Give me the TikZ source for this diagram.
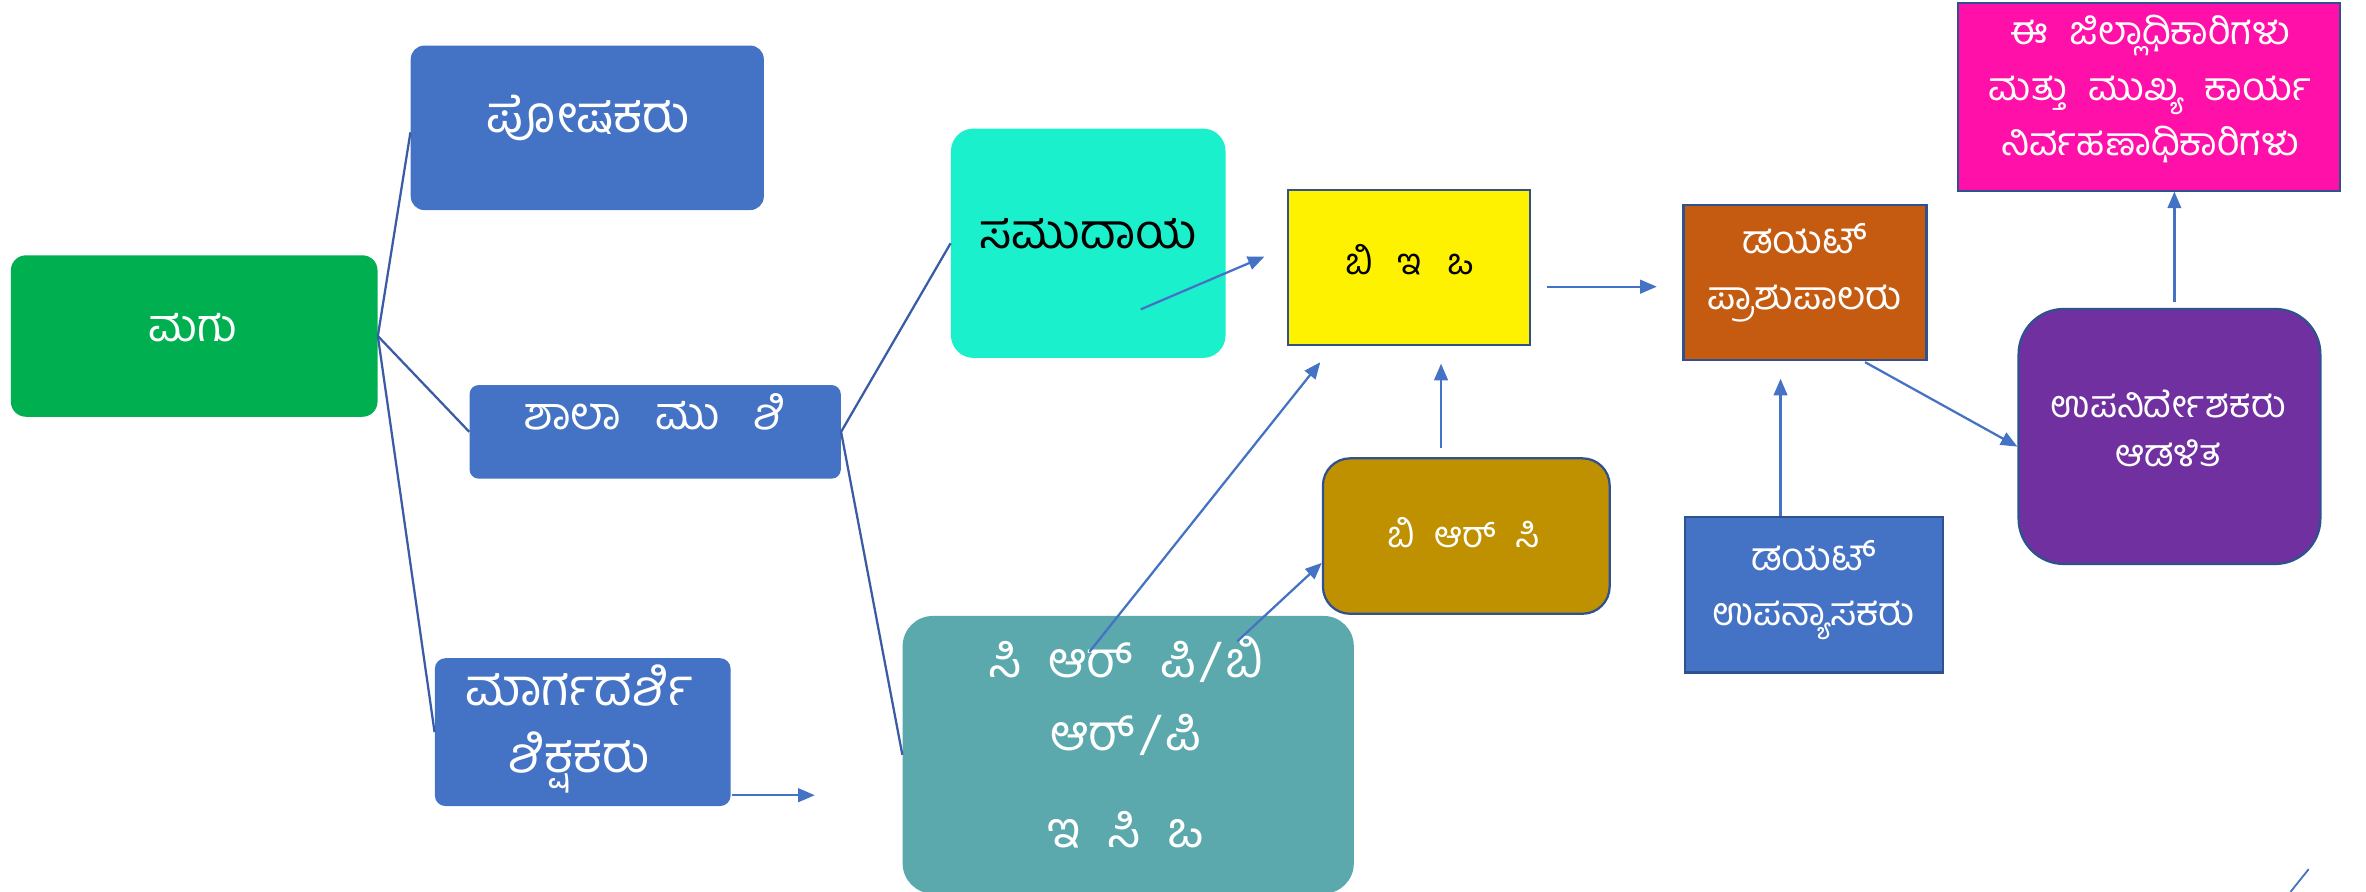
\documentclass[tikz,border=0pt]{standalone}
\usepackage{fontspec}
\newfontfamily\kn[Script=Kannada]{Hind Mysuru}
\usetikzlibrary{arrows.meta}
\definecolor{cgreen}{HTML}{00B050}
\definecolor{cblue}{HTML}{4472C4}
\definecolor{cdark}{HTML}{2F528F}
\definecolor{cline}{HTML}{3A5BA5}
\definecolor{caqua}{HTML}{1BF0CC}
\definecolor{cteal}{HTML}{5BA9AD}
\definecolor{cgold}{HTML}{BF9000}
\definecolor{corange}{HTML}{C55A11}
\definecolor{cpurple}{HTML}{7030A0}
\definecolor{cpink}{HTML}{FF10A9}
\newcommand{\gap}[1]{\hspace{#1em}}
\begin{document}
\begin{tikzpicture}[x=1pt,y=-1pt,
  box/.style={anchor=north west,inner sep=0pt,draw=none},
  txt/.style={font=\kn\fontsize{30}{36}\selectfont,text=white,inner sep=0pt,align=center},
  tree/.style={draw=cline,line width=1.5pt},
  arr/.style={draw=cblue,line width=1.5pt,-{Triangle[length=11pt,width=9pt]}}]
\useasboundingbox (0,0) rectangle (1568,591);
% boxes
\node[box,fill=cgreen,rounded corners=10pt,minimum width=243pt,minimum height=107pt] (mgu) at (7,169) {};
\node[box,fill=cblue,rounded corners=9pt,minimum width=234pt,minimum height=109pt] (posh) at (272,30) {};
\node[box,fill=cblue,rounded corners=6pt,minimum width=246pt,minimum height=62pt] (shala) at (311,255) {};
\node[box,fill=cblue,rounded corners=7pt,minimum width=196pt,minimum height=98pt] (marg) at (288,436) {};
\node[box,fill=caqua,rounded corners=15pt,minimum width=182pt,minimum height=152pt] (samu) at (630,85) {};
\node[box,fill=yellow,draw=cdark,line width=1.5pt,minimum width=160pt,minimum height=103pt] (beo) at (853,125) {};
\node[box,fill=cgold,draw=cdark,line width=1.5pt,rounded corners=18pt,minimum width=190pt,minimum height=103pt] (brc) at (876,303) {};
\node[box,fill=cteal,rounded corners=20pt,minimum width=299pt,minimum height=184pt] (crp) at (598,408) {};
\node[box,fill=corange,draw=cdark,line width=1.5pt,minimum width=161pt,minimum height=103pt] (dietp) at (1115,135) {};
\node[box,fill=cblue,draw=cdark,line width=1.5pt,minimum width=171pt,minimum height=103pt] (dietl) at (1116,342) {};
\node[box,fill=cpurple,draw=cdark,line width=1.5pt,rounded corners=30pt,minimum width=200pt,minimum height=169pt] (ddpi) at (1337,204) {};
\node[box,fill=cpink,draw=cdark,line width=1.5pt,minimum width=253pt,minimum height=125pt] (dc) at (1297,1) {};
% texts
\node[txt] (tmgu) at (128,217) {ಮಗು};
\node[txt,font=\kn\fontsize{34}{40}\selectfont] (tposh) at (390,78) {ಪೋಷಕರು};
\node[txt] (tshala) at (434,273) {ಶಾಲಾ\gap{0.5} ಮು\gap{0.5} ಶಿ};
\node[txt,font=\kn\fontsize{34}{44}\selectfont] (tmarg) at (384,483) {ಮಾರ್ಗದರ್ಶಿ\\ಶಿಕ್ಷಕರು};
\node[txt,text=black,font=\kn\fontsize{32}{38}\selectfont] (tsamu) at (721,155) {ಸಮುದಾಯ};
\node[txt,text=black,font=\kn\fontsize{24}{28}\selectfont] (tbeo) at (934,172) {ಬಿ\gap{0.45} ಇ\gap{0.45} ಒ};
\node[txt,font=\kn\fontsize{24}{28}\selectfont] (tbrc) at (970,353) {ಬಿ\gap{0.3} ಆರ್\gap{0.3} ಸಿ};
\node[txt,font=\kn\fontsize{33}{48}\selectfont] (tcrp1) at (746,461) {ಸಿ\gap{0.3} ಆರ್\gap{0.3} ಪಿ\gap{0.1}/\gap{0.1}ಬಿ\\ಆರ್\gap{0.1}/\gap{0.1}ಪಿ};
\node[txt,font=\kn\fontsize{33}{40}\selectfont] (tcrp2) at (746,550) {ಇ\gap{0.3} ಸಿ\gap{0.3} ಒ};
\node[txt,font=\kn\fontsize{26}{37}\selectfont] (tdietp) at (1196,181) {ಡಯಟ್\\ಪ್ರಾಶುಪಾಲರು};
\node[txt,font=\kn\fontsize{26}{37}\selectfont] (tdietl) at (1202,391) {ಡಯಟ್\\ಉಪನ್ಯಾಸಕರು};
\node[txt,font=\kn\fontsize{25}{32}\selectfont] (tddpi) at (1437,284) {ಉಪನಿರ್ದೇಶಕರು\\ಆಡಳಿತ};
\node[txt,font=\kn\fontsize{26}{37}\selectfont] (tdc) at (1425,59) {ಈ\gap{0.3} ಜಿಲ್ಲಾಧಿಕಾರಿಗಳು\\ಮತ್ತು\gap{0.3} ಮುಖ್ಯ\gap{0.3} ಕಾರ್ಯ\\ನಿರ್ವಹಣಾಧಿಕಾರಿಗಳು};
% free ends
\coordinate (a1s) at (756,205); \coordinate (a1e) at (838,170);
\coordinate (a2s) at (1025,190); \coordinate (a2e) at (1098,190);
\coordinate (a3s) at (722,432); \coordinate (a3e) at (875,240);
\coordinate (a4s) at (820,425); \coordinate (a4e) at (876,373);
\coordinate (a5s) at (955,297); \coordinate (a5e) at (955,241);
\coordinate (a6s) at (485,527); \coordinate (a6e) at (540,527);
\coordinate (a7s) at (1236,240); \coordinate (a7e) at (1337,296);
\coordinate (a8s) at (1180,342); \coordinate (a8e) at (1180,251);
\coordinate (a9s) at (1441,200); \coordinate (a9e) at (1441,127);
\coordinate (s1) at (1518,591); \coordinate (s2) at (1530,576);
% tree lines
\draw[tree] (mgu.east) -- ([yshift=-3pt]posh.west);
\draw[tree] (mgu.east) -- (shala.west);
\draw[tree] (mgu.east) -- (marg.west);
\draw[tree] (shala.east) -- (samu.west);
\draw[tree] (shala.east) -- (crp.west);
% arrows
\draw[arr] (a1s) -- (a1e);
\draw[arr] (a2s) -- (a2e);
\draw[arr] (a3s) -- (a3e);
\draw[arr] (a4s) -- (a4e);
\draw[arr] (a5s) -- (a5e);
\draw[arr] (a6s) -- (a6e);
\draw[arr] (a7s) -- (a7e);
\draw[arr] (a8s) -- (a8e);
\draw[arr] (a9s) -- (a9e);
\draw[draw=cblue,line width=1.2pt] (s1) -- (s2);
\end{tikzpicture}
\end{document}
